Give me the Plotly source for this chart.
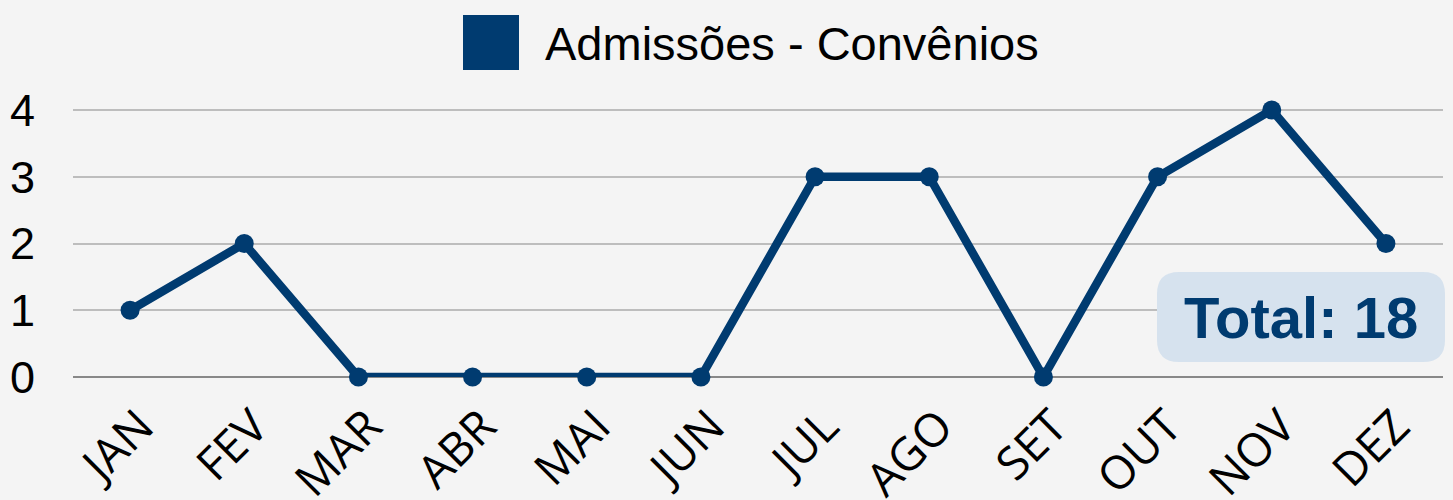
import plotly.graph_objects as go

months = ["JAN", "FEV", "MAR", "ABR", "MAI", "JUN", "JUL", "AGO", "SET", "OUT", "NOV", "DEZ"]
admissoes = [1, 2, 0, 0, 0, 0, 3, 3, 0, 3, 4, 2]
series_name = "Admissões - Convênios"
y_ticks = [0, 1, 2, 3, 4]

navy = "#003b70"
bg = "#f4f4f4"

L, R, T, B = 73, 10, 108, 123
W, H = 1453, 500
pw, ph = W - L - R, H - T - B
ymax = 4 * (H - B - T) / 267.0  # keep 4 at y=110

def px(x):
    return (x - L) / pw

def py(y):
    return (H - B - y) / ph

fig = go.Figure()
fig.add_trace(go.Scatter(
    x=months, y=admissoes, mode="lines+markers", name=series_name,
    line=dict(color=navy, width=8.5), marker=dict(color=navy, size=19),
    cliponaxis=False, showlegend=False,
))

# rounded total box
x0, x1, y0, y1 = px(1157), px(1445), py(362), py(272)
rx, ry = 22 / pw, 22 / ph
path = (f"M {x0+rx},{y0} L {x1-rx},{y0} Q {x1},{y0} {x1},{y0+ry} "
        f"L {x1},{y1-ry} Q {x1},{y1} {x1-rx},{y1} L {x0+rx},{y1} "
        f"Q {x0},{y1} {x0},{y1-ry} L {x0},{y0+ry} Q {x0},{y0} {x0+rx},{y0} Z")
fig.add_shape(type="path", path=path, xref="paper", yref="paper",
              fillcolor="#d6e2ee", line=dict(width=0), layer="above")
fig.add_annotation(text=f"<b>Total: {sum(admissoes)}</b>", x=(x0 + x1) / 2, y=(y0 + y1) / 2,
                   xref="paper", yref="paper", xanchor="center", yanchor="middle", showarrow=False,
                   font=dict(family="Liberation Sans", size=58, color=navy))

# legend
fig.add_shape(type="rect", xref="paper", yref="paper", x0=px(463), x1=px(519),
              y0=py(70), y1=py(15), fillcolor=navy, line=dict(width=0))
fig.add_annotation(text=series_name, x=px(543), y=py(44), xref="paper", yref="paper",
                   xanchor="left", yanchor="middle", showarrow=False,
                   font=dict(family="Liberation Sans", size=47, color="#000000"))

fig.update_layout(
    width=W, height=H, paper_bgcolor=bg, plot_bgcolor=bg,
    margin=dict(l=L, r=R, t=T, b=B, autoexpand=False),
    xaxis=dict(range=[-0.5, 11.5], showgrid=False, tickangle=-45, showline=False, zeroline=False,
               automargin=False, ticklabelshift=10, ticklabelstandoff=12,
               tickfont=dict(family="Open Sans", size=46, color="#000000")),
    yaxis=dict(range=[0, ymax], tickvals=y_ticks, showgrid=True, gridcolor="#bdbdbd", gridwidth=2,
               automargin=False,
               zeroline=True, zerolinecolor="#888888", zerolinewidth=2, ticklabelstandoff=37,
               tickfont=dict(family="Liberation Sans", size=45, color="#000000")),
)

fig.write_html("out.html", config={"displayModeBar": False},
               post_script="document.body.style.margin='0';document.body.style.overflow='hidden';")
